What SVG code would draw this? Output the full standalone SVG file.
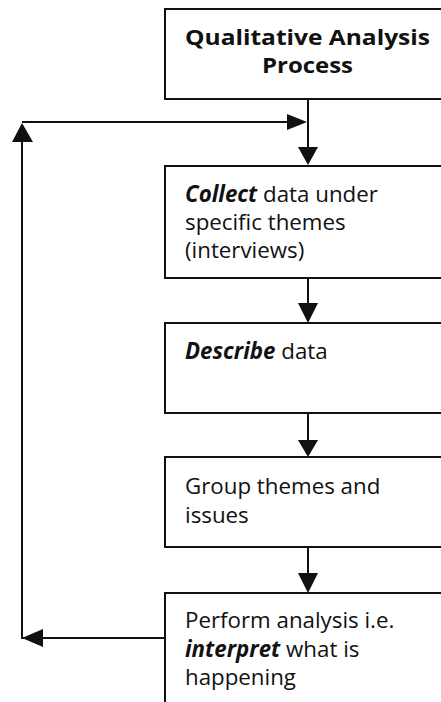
<svg xmlns="http://www.w3.org/2000/svg" width="441" height="702" viewBox="0 0 441 702">
  <style>
    .box { fill: #ffffff; stroke: #111111; stroke-width: 2; }
    .line { fill: none; stroke: #111111; stroke-width: 2; }
    .head { fill: #111111; stroke: none; }
    text { font-family: "Open Sans", "Liberation Sans", sans-serif; fill: #111111; }
    .title { font-size: 22px; font-weight: 700; }
    .body { font-size: 22.3px; }
    .em { font-weight: 700; font-style: italic; }
  </style>
  <rect x="0" y="0" width="441" height="702" fill="#ffffff"/>

  <!-- connectors -->
  <g id="connectors">
    <line class="line" x1="308" y1="99" x2="308" y2="150"/>
    <polygon class="head" points="298,147 318,147 308,165"/>
    <line class="line" x1="308" y1="278" x2="308" y2="306"/>
    <polygon class="head" points="298,303 318,303 308,323"/>
    <line class="line" x1="308" y1="413" x2="308" y2="443"/>
    <polygon class="head" points="298,440 318,440 308,457"/>
    <line class="line" x1="308" y1="547" x2="308" y2="576"/>
    <polygon class="head" points="298,573 318,573 308,593"/>
    <!-- feedback loop -->
    <polyline class="line" points="165,638 22,638 22,138"/>
    <polygon class="head" points="22,638 43,629 43,647"/>
    <polygon class="head" points="22,123 12,142 33,142"/>
    <line class="line" x1="22" y1="122" x2="290" y2="122"/>
    <polygon class="head" points="307,122 287,114 287,130"/>
  </g>

  <g id="node-process">
    <rect class="box" x="165" y="9" width="290" height="90"/>
    <text class="title" x="185" y="45" textLength="245" lengthAdjust="spacingAndGlyphs">Qualitative Analysis</text>
    <text class="title" x="262" y="73" textLength="91" lengthAdjust="spacingAndGlyphs">Process</text>
  </g>

  <g id="node-collect">
    <rect class="box" x="165" y="166" width="290" height="112"/>
    <text class="body" x="185" y="202"><tspan class="em">Collect</tspan> data under</text>
    <text class="body" x="185" y="230">specific themes</text>
    <text class="body" x="185" y="258">(interviews)</text>
  </g>

  <g id="node-describe">
    <rect class="box" x="165" y="323" width="290" height="90"/>
    <text class="body" x="185" y="359"><tspan class="em">Describe</tspan> data</text>
  </g>

  <g id="node-group">
    <rect class="box" x="165" y="457" width="290" height="90"/>
    <text class="body" x="185" y="494">Group themes and</text>
    <text class="body" x="185" y="523">issues</text>
  </g>

  <g id="node-analyse">
    <rect class="box" x="165" y="593" width="290" height="130"/>
    <text class="body" x="185" y="628">Perform analysis i.e.</text>
    <text class="body" x="185" y="657"><tspan class="em">interpret</tspan> what is</text>
    <text class="body" x="185" y="685">happening</text>
  </g>
</svg>
